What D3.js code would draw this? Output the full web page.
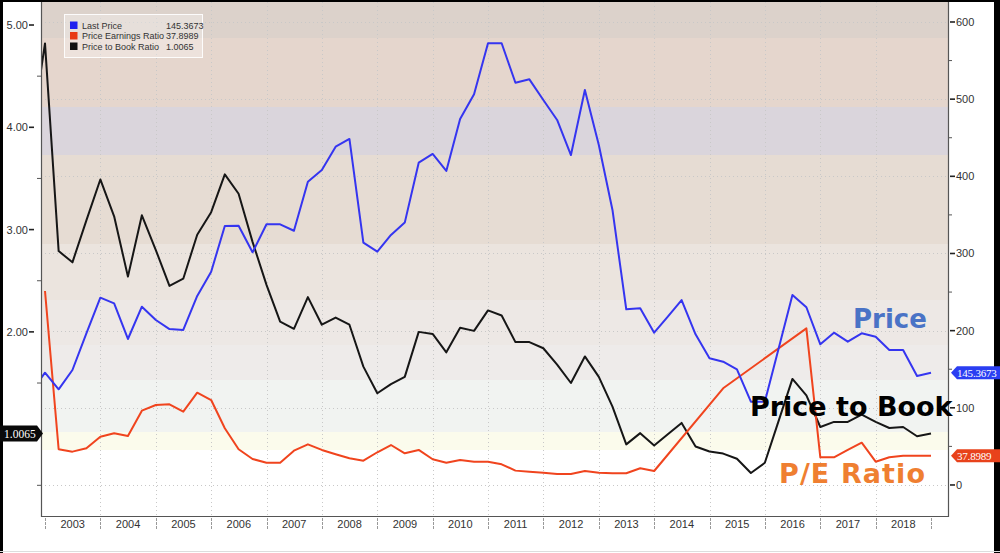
<!DOCTYPE html>
<html>
<head>
<meta charset="utf-8">
<script src="https://cdn.jsdelivr.net/npm/d3@7"></script>
<style>
  html, body { margin: 0; padding: 0; background: #fff; }
  svg { display: block; }
</style>
</head>
<body>
<svg id="chart" width="1000" height="553"></svg>
<script>
// ---------------- DATA ----------------
const quarters = [
  "2002-10-01",
  "2003-01-01","2003-04-01","2003-07-01","2003-10-01",
  "2004-01-01","2004-04-01","2004-07-01","2004-10-01",
  "2005-01-01","2005-04-01","2005-07-01","2005-10-01",
  "2006-01-01","2006-04-01","2006-07-01","2006-10-01",
  "2007-01-01","2007-04-01","2007-07-01","2007-10-01",
  "2008-01-01","2008-04-01","2008-07-01","2008-10-01",
  "2009-01-01","2009-04-01","2009-07-01","2009-10-01",
  "2010-01-01","2010-04-01","2010-07-01","2010-10-01",
  "2011-01-01","2011-04-01","2011-07-01","2011-10-01",
  "2012-01-01","2012-04-01","2012-07-01","2012-10-01",
  "2013-01-01","2013-04-01","2013-07-01","2013-10-01",
  "2014-01-01","2014-04-01","2014-07-01","2014-10-01",
  "2015-01-01","2015-04-01","2015-07-01","2015-10-01",
  "2016-01-01","2016-04-01","2016-07-01","2016-10-01",
  "2017-01-01","2017-04-01","2017-07-01","2017-10-01",
  "2018-01-01","2018-04-01","2018-07-01","2018-10-01",
  "2019-01-01"
];

// Last Price (right axis)
const lastPrice = [
  120,
  145.5, 124, 149, 196.6,
  242.7, 235.4, 189.2, 231,
  213.8, 202, 200.9, 245,
  276.4, 335.6, 336, 301.5,
  337.8, 337.8, 329.5, 393,
  408.2, 438.4, 448.4, 314,
  302.3, 324, 340, 417.7,
  429, 407, 474.3, 506.3,
  572.4, 572.4, 521.3, 525.7,
  498.9, 473, 427.6, 511.9,
  440.6, 356.4, 227.7, 229,
  197.4, 218.1, 239.7, 195.3,
  164.2, 159.8, 149.9, 108,
  108, 177, 246.2, 230.3,
  182.3, 197.4, 185.7, 196.6,
  192.2, 175, 175, 141.2,
  145.3673
];

// Price Earnings Ratio (right axis), null = no value that quarter
const peRatio = [
  null,
  251.4, 46.3, 43.2, 47.5,
  62.6, 67, 63.5, 96.3,
  103.7, 104.6, 95, 119.6,
  110.1, 73.5, 46.3, 33.7,
  28.9, 28.9, 44.5, 52.7,
  45.4, 39.8, 34.6, 31.5,
  42.4, 51.8, 41, 45.4,
  33.3, 28.9, 32.4, 30.2,
  30.2, 26.8, 18.6, 17.3,
  16, 14.3, 14.3, 18.1,
  16, 15.2, 15.2, 21.6,
  18.1, null, null, null,
  null, 125.3, null, null,
  null, null, null, 203,
  35.9, 35.9, 45.4, 54.8,
  30.2, 35.9, 38, 38,
  37.8989
];

// Price to Book Ratio (left axis)
const pbRatio = [
  3.9,
  4.82, 2.79, 2.68, 3.09,
  3.49, 3.13, 2.54, 3.14,
  2.80, 2.45, 2.52, 2.95,
  3.17, 3.54, 3.35, 2.88,
  2.46, 2.10, 2.03, 2.34,
  2.07, 2.14, 2.07, 1.66,
  1.40, 1.49, 1.56, 2.00,
  1.98, 1.80, 2.04, 2.01,
  2.21, 2.16, 1.90, 1.90,
  1.84, 1.68, 1.50, 1.76,
  1.56, 1.27, 0.90, 1.01,
  0.89, 1.00, 1.11, 0.88,
  0.83, 0.81, 0.76, 0.62,
  0.72, 1.13, 1.54, 1.38,
  1.07, 1.12, 1.12, 1.19,
  1.12, 1.06, 1.07, 0.98,
  1.0065
];

const yearLabels = ["2003","2004","2005","2006","2007","2008","2009","2010",
                    "2011","2012","2013","2014","2015","2016","2017","2018"];
const yearBoundaries = ["2003","2004","2005","2006","2007","2008","2009","2010","2011",
                        "2012","2013","2014","2015","2016","2017","2018","2019"];
const leftTicks = [5, 4, 3, 2];
const leftMinorTicks = [4.5, 3.5, 2.5, 1.5, 1, 0.5];
const rightTicks = [0, 100, 200, 300, 400, 500, 600];
const rightMinorTicks = [50, 150, 250, 350, 450, 550];

const legendNames = ["Last Price", "Price Earnings Ratio", "Price to Book Ratio"];
const legendValues = ["145.3673", "37.8989", "1.0065"];
const lastLabels = { price: "145.3673", pe: "37.8989", pb: "1.0065" };

// ---------------- LAYOUT ----------------
const L = 41, R = 948, T = 2, B = 516;
const svg = d3.select("#chart");
const parse = d3.utcParse("%Y-%m-%d");
const dates = quarters.map(parse);
const parseYear = d3.utcParse("%Y");
const axisFont = "'Liberation Sans', Arial, sans-serif";

const x = d3.scaleUtc()
  .domain([parseYear("2003"), parseYear("2019")])
  .range([45, 931]);
const yL = d3.scaleLinear().domain([0.2, 5.225]).range([B, T]);
const yR = d3.scaleLinear().domain([-40.2, 625.9]).range([B, T]);

// outer frame (drawn first; tags go on top)
svg.append("rect").attr("x", 0).attr("y", 0).attr("width", 3).attr("height", 553).attr("fill", "#000");
svg.append("rect").attr("x", 0).attr("y", 0).attr("width", 1000).attr("height", 2).attr("fill", "#000");
svg.append("rect").attr("x", 994).attr("y", 0).attr("width", 6).attr("height", 553).attr("fill", "#000");
svg.append("rect").attr("x", 0).attr("y", 551).attr("width", 1000).attr("height", 1).attr("fill", "#ddd");

// background bands (decorative gradient)
const bands = [
  {y0: T, y1: 38, c: "#dcd2cb"},
  {y0: 38, y1: 107, c: "#e5d6cd"},
  {y0: 107, y1: 155, c: "#dad5dc"},
  {y0: 155, y1: 244, c: "#e6dcd3"},
  {y0: 244, y1: 300, c: "#ebe4de"},
  {y0: 300, y1: 345, c: "#ede8e5"},
  {y0: 345, y1: 380, c: "#eeebea"},
  {y0: 380, y1: 432, c: "#f1f3f1"},
  {y0: 432, y1: 450, c: "#fbfbec"},
  {y0: 450, y1: B, c: "#ffffff"}
];
svg.append("g").selectAll("rect").data(bands).join("rect")
  .attr("x", L).attr("width", R - L)
  .attr("y", d => d.y0).attr("height", d => d.y1 - d.y0)
  .attr("fill", d => d.c);

// grid
const grid = svg.append("g").attr("stroke", "#c8c8c8").attr("stroke-dasharray", "1,3").attr("stroke-width", 1);
grid.selectAll("line.h").data(rightTicks).join("line")
  .attr("x1", L).attr("x2", R)
  .attr("y1", d => Math.round(yR(d)) + 0.5).attr("y2", d => Math.round(yR(d)) + 0.5);
grid.selectAll("line.v").data(yearBoundaries.slice(1, -1)).join("line")
  .attr("y1", T).attr("y2", B)
  .attr("x1", d => Math.round(x(parseYear(d))) + 0.5).attr("x2", d => Math.round(x(parseYear(d))) + 0.5);

// clip
svg.append("clipPath").attr("id", "plotclip").append("rect")
  .attr("x", L).attr("y", T).attr("width", R - L).attr("height", B - T);

const lines = svg.append("g").attr("clip-path", "url(#plotclip)");
function draw(values, yScale, color) {
  const pts = dates.map((d, i) => [d, values[i]]).filter(p => p[1] != null);
  lines.append("path")
    .datum(pts)
    .attr("fill", "none")
    .attr("stroke", color)
    .attr("stroke-width", 2)
    .attr("stroke-linejoin", "round")
    .attr("d", d3.line().x(p => x(p[0])).y(p => yScale(p[1])));
}
draw(pbRatio, yL, "#161616");
draw(peRatio, yR, "#f0441e");
draw(lastPrice, yR, "#3535f0");

// plot frame
svg.append("path")
  .attr("d", `M${L + 0.5},${T} V${B + 0.5} H${R + 0.5} V${T}`)
  .attr("fill", "none").attr("stroke", "#555").attr("stroke-width", 1.2);

// left axis
const leftAxis = svg.append("g").attr("font-family", axisFont).attr("font-size", 11).attr("fill", "#333");
leftAxis.selectAll("line.maj").data(leftTicks).join("line")
  .attr("x1", 29).attr("x2", 34)
  .attr("y1", d => yL(d)).attr("y2", d => yL(d))
  .attr("stroke", "#222").attr("stroke-width", 1.6);
leftAxis.selectAll("line.min").data(leftMinorTicks).join("line")
  .attr("x1", 37).attr("x2", 41)
  .attr("y1", d => yL(d)).attr("y2", d => yL(d))
  .attr("stroke", "#555").attr("stroke-width", 1);
leftAxis.selectAll("text").data(leftTicks).join("text")
  .attr("x", 28).attr("y", d => yL(d) + 4)
  .attr("text-anchor", "end")
  .text(d => d3.format(".2f")(d));

// right axis
const rightAxis = svg.append("g").attr("font-family", axisFont).attr("font-size", 11).attr("fill", "#333");
rightAxis.selectAll("line.maj").data(rightTicks).join("line")
  .attr("x1", 950).attr("x2", 955)
  .attr("y1", d => yR(d)).attr("y2", d => yR(d))
  .attr("stroke", "#222").attr("stroke-width", 1.6);
rightAxis.selectAll("line.min").data(rightMinorTicks).join("line")
  .attr("x1", 949).attr("x2", 952)
  .attr("y1", d => yR(d)).attr("y2", d => yR(d))
  .attr("stroke", "#555").attr("stroke-width", 1);
rightAxis.selectAll("text").data(rightTicks).join("text")
  .attr("x", 956).attr("y", d => yR(d) + 4)
  .text(d => d);

// bottom axis: year dividers + centred labels
const bottom = svg.append("g").attr("font-family", axisFont).attr("font-size", 11).attr("fill", "#333");
bottom.selectAll("line").data(yearBoundaries).join("line")
  .attr("x1", d => Math.round(x(parseYear(d))) + 0.5).attr("x2", d => Math.round(x(parseYear(d))) + 0.5)
  .attr("y1", B + 2).attr("y2", B + 14)
  .attr("stroke", "#999").attr("stroke-width", 1).attr("stroke-dasharray", "3,1");
bottom.selectAll("text").data(yearLabels).join("text")
  .attr("x", d => (x(parseYear(d)) + x(parseYear(String(+d + 1)))) / 2)
  .attr("y", B + 12)
  .attr("text-anchor", "middle")
  .text(d => d);

// legend
const lg = svg.append("g").attr("font-family", axisFont).attr("font-size", 9).attr("fill", "#333");
lg.append("rect").attr("x", 64.5).attr("y", 14.5).attr("width", 138).attr("height", 43)
  .attr("fill", "rgba(255,255,255,0.3)").attr("stroke", "rgba(255,255,255,0.9)").attr("stroke-width", 1);
const legendColors = ["#2020ee", "#e83a14", "#111111"];
legendNames.forEach((n, i) => {
  const yy = 25.5 + i * 10.5;
  lg.append("rect").attr("x", 70).attr("y", yy - 4).attr("width", 7.5).attr("height", 7.5).attr("fill", legendColors[i]);
  lg.append("text").attr("x", 82).attr("y", yy + 3).text(n);
  lg.append("text").attr("x", 166).attr("y", yy + 3).text(legendValues[i]);
});

// last value tags
function rightTag(v, color, label) {
  const yy = yR(v);
  svg.append("path")
    .attr("d", `M951,${yy} L957,${yy - 6.5} H1000 V${yy + 6.5} H957 Z`)
    .attr("fill", color);
  svg.append("text").attr("x", 957).attr("y", yy + 4)
    .attr("font-family", "'Liberation Serif', 'DejaVu Serif', serif").attr("font-size", 11)
    .attr("letter-spacing", -0.2)
    .attr("fill", "#fff").text(label);
}
rightTag(lastPrice[lastPrice.length - 1], "#2b3ef2", lastLabels.price);
rightTag(peRatio[peRatio.length - 1], "#e8421b", lastLabels.pe);

const pbY = yL(pbRatio[pbRatio.length - 1]);
svg.append("path")
  .attr("d", `M0,${pbY - 8} H37 L43,${pbY} L37,${pbY + 8} H0 Z`).attr("fill", "#0a0a0a");
svg.append("text").attr("x", 4).attr("y", pbY + 4)
  .attr("font-family", "'Liberation Serif', 'DejaVu Serif', serif").attr("font-size", 11.5)
  .attr("fill", "#fff").text(lastLabels.pb);

// big annotations
const ann = svg.append("g").attr("font-family", "'DejaVu Sans', Verdana, sans-serif").attr("font-weight", "bold");
ann.append("text").attr("x", 853).attr("y", 328).attr("font-size", 26).attr("fill", "#4a73c6").text("Price");
ann.append("text").attr("x", 750).attr("y", 416).attr("font-size", 27).attr("fill", "#000").text("Price to Book");
ann.append("text").attr("x", 779).attr("y", 483).attr("font-size", 27).attr("letter-spacing", 1.1).attr("fill", "#ef7f31").text("P/E Ratio");
</script>
</body>
</html>
